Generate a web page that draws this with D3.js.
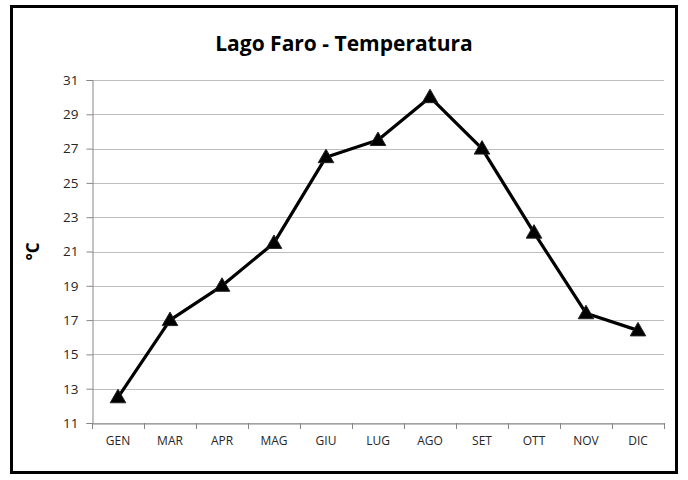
<!DOCTYPE html>
<html>
<head>
<meta charset="utf-8">
<script src="https://cdn.jsdelivr.net/npm/d3@7"></script>
<style>
  body { margin: 0; background: #fff; }
  text { font-family: "Open Sans", "Noto Sans", sans-serif; }
</style>
</head>
<body>
<script>
// chart data
var months = ["GEN", "MAR", "APR", "MAG", "GIU", "LUG", "AGO", "SET", "OTT", "NOV", "DIC"];
var temps = [12.5, 17, 19, 21.5, 26.5, 27.5, 30, 27, 22.1, 17.4, 16.4];
var yTicks = [11, 13, 15, 17, 19, 21, 23, 25, 27, 29, 31];

var width = 688, height = 480;
var margin = {left: 92, right: 24, top: 80, bottom: 57};

var svg = d3.select("body").append("svg")
    .attr("width", width)
    .attr("height", height);

// outer frame
svg.append("rect")
    .attr("x", 11.5).attr("y", 6.5)
    .attr("width", 665).attr("height", 466)
    .attr("fill", "#fff")
    .attr("stroke", "#000")
    .attr("stroke-width", 3);

// title
svg.append("text")
    .attr("x", 344).attr("y", 51)
    .attr("text-anchor", "middle")
    .style("font-size", "21px")
    .style("font-weight", "bold")
    .text("Lago Faro - Temperatura");

var x = d3.scaleBand()
    .domain(months)
    .range([margin.left, width - margin.right]);

var y = d3.scaleLinear()
    .domain([11, 31])
    .range([height - margin.bottom, margin.top]);

// gridlines
svg.append("g")
    .selectAll("line")
    .data(yTicks)
    .enter()
    .append("line")
    .attr("x1", margin.left)
    .attr("x2", width - margin.right)
    .attr("y1", function(d) { return Math.round(y(d)) + 0.5; })
    .attr("y2", function(d) { return Math.round(y(d)) + 0.5; })
    .attr("stroke", "#bebebe")
    .attr("stroke-width", 1.2);

// y axis
var yAxis = svg.append("g")
    .attr("transform", "translate(" + (margin.left + 0.5) + ",0)")
    .call(d3.axisLeft(y).tickValues(yTicks).tickSize(6).tickPadding(8));
yAxis.select(".domain").attr("stroke", "#868686");
yAxis.selectAll(".tick line").attr("stroke", "#868686");
yAxis.selectAll("text")
    .style("font-size", "13.5px")
    .attr("fill", "#262626");

// x axis
var xAxis = svg.append("g")
    .attr("transform", "translate(0," + (Math.round(y(11)) + 0.5) + ")")
    .call(d3.axisBottom(x).tickSize(0).tickPadding(13));
xAxis.select(".domain").attr("stroke", "#868686");
xAxis.selectAll("text")
    .style("font-size", "12px")
    .attr("fill", "#262626");

// tick marks between categories
svg.append("g")
    .selectAll("line")
    .data(months.concat(["end"]))
    .enter()
    .append("line")
    .attr("x1", function(d, i) { return Math.round(margin.left + i * x.step()) + 0.5; })
    .attr("x2", function(d, i) { return Math.round(margin.left + i * x.step()) + 0.5; })
    .attr("y1", Math.round(y(11)))
    .attr("y2", Math.round(y(11)) + 6)
    .attr("stroke", "#868686");

// y axis title
svg.append("text")
    .attr("transform", "translate(39," + (y(21)) + ") rotate(-90)")
    .attr("text-anchor", "middle")
    .style("font-size", "17px")
    .style("font-weight", "bold")
    .text("°C");

// line
var line = d3.line()
    .x(function(d, i) { return x(months[i]) + x.bandwidth() / 2; })
    .y(function(d) { return y(d); });

svg.append("path")
    .datum(temps)
    .attr("d", line)
    .attr("fill", "none")
    .attr("stroke", "#000")
    .attr("stroke-width", 3.2)
    .attr("stroke-linejoin", "round");

// triangle markers
svg.append("g")
    .selectAll("path")
    .data(temps)
    .enter()
    .append("path")
    .attr("d", d3.symbol().type(d3.symbolTriangle).size(105))
    .attr("transform", function(d, i) {
      return "translate(" + (x(months[i]) + x.bandwidth() / 2) + "," + (y(d) + 1) + ")";
    })
    .attr("fill", "#000")
    .attr("stroke", "#222")
    .attr("stroke-width", 1);
</script>
</body>
</html>
